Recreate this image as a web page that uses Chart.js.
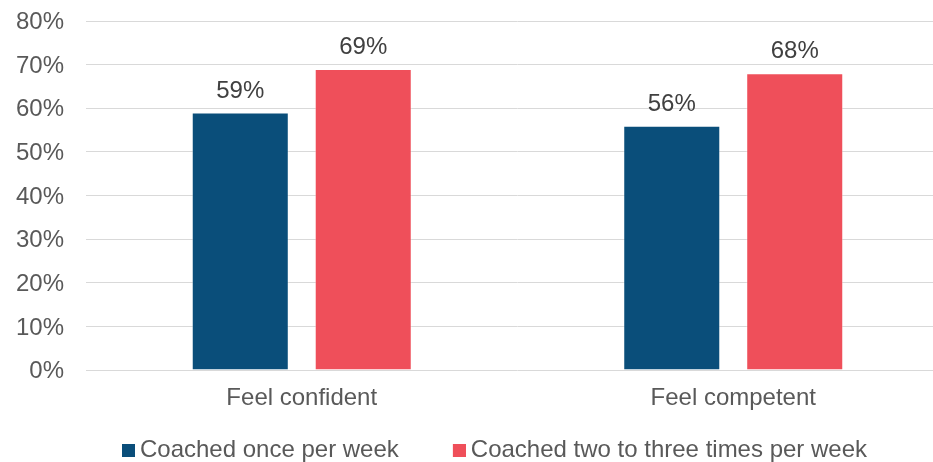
<!DOCTYPE html>
<html>
<head>
<meta charset="utf-8">
<script src="https://cdn.jsdelivr.net/npm/chart.js@4/dist/chart.umd.min.js"></script>
<style>
  html, body { margin: 0; padding: 0; overflow: hidden; background: #ffffff; }
  #wrap { width: 949px; height: 462px; position: relative; }
</style>
</head>
<body>
<div id="wrap"><canvas id="c"></canvas></div>
<script>
const categories = ['Feel confident', 'Feel competent'];
const seriesNames = ['Coached once per week', 'Coached two to three times per week'];
const onceValues = [59, 56];
const twoThreeValues = [69, 68];
const yTickValues = [0, 10, 20, 30, 40, 50, 60, 70, 80];
const seriesColors = ['#0A4E7A', '#EF4F5A'];

const FONT = '"Liberation Sans", Arial, Helvetica, sans-serif';
const LEGEND_BOX = 46;

// legend swatch: transparent canvas with a 13px square at its right end
function swatch(color) {
  const cv = document.createElement('canvas');
  cv.width = LEGEND_BOX + 14; cv.height = 13;
  const g = cv.getContext('2d');
  g.fillStyle = color;
  g.fillRect(cv.width - 13, 0, 13, 13);
  return cv;
}

const valueLabels = {
  id: 'valueLabels',
  afterDatasetsDraw(chart) {
    const ctx = chart.ctx;
    ctx.save();
    ctx.font = '24px ' + FONT;
    ctx.fillStyle = '#404040';
    ctx.textAlign = 'center';
    ctx.textBaseline = 'alphabetic';
    chart.data.datasets.forEach((ds, i) => {
      chart.getDatasetMeta(i).data.forEach((bar, j) => {
        ctx.fillText(ds.data[j] + '%', bar.x, bar.y - 15);
      });
    });
    ctx.restore();
  }
};

new Chart(document.getElementById('c'), {
  type: 'bar',
  data: {
    labels: categories,
    datasets: [
      { label: seriesNames[0], data: onceValues, backgroundColor: seriesColors[0], pointStyle: swatch(seriesColors[0]),
        borderColor: 'rgba(255,255,255,0.35)', borderWidth: 1,
        categoryPercentage: 0.57, barPercentage: 0.789 },
      { label: seriesNames[1], data: twoThreeValues, backgroundColor: seriesColors[1], pointStyle: swatch(seriesColors[1]),
        borderColor: 'rgba(255,255,255,0.35)', borderWidth: 1,
        categoryPercentage: 0.57, barPercentage: 0.789 }
    ]
  },
  options: {
    responsive: true,
    maintainAspectRatio: false,
    animation: false,
    layout: { padding: { left: 0, right: 0, top: 21, bottom: 0 } },
    plugins: {
      tooltip: { enabled: false },
      legend: {
        position: 'bottom',
        maxHeight: 38,
        labels: {
          usePointStyle: true,
          pointStyleWidth: LEGEND_BOX,
          boxHeight: 24,
          padding: 14,
          color: '#595959',
          font: { family: FONT, size: 24 }
        }
      }
    },
    scales: {
      x: {
        grid: { display: false, drawTicks: false },
        border: { display: false },
        ticks: { color: '#595959', padding: 14, font: { family: FONT, size: 24 } },
        afterFit(s) { s.height = 54; }
      },
      y: {
        min: 0,
        max: 80,
        grid: { color: '#D9D9D9', lineWidth: 1, drawTicks: false },
        border: { display: false },
        afterBuildTicks(s) { s.ticks = yTickValues.map(v => ({ value: v })); },
        ticks: {
          color: '#595959',
          padding: 22,
          labelOffset: 1.5,
          font: { family: FONT, size: 24 },
          callback: v => v + '%'
        },
        afterFit(s) { s.width = 86; s.paddingTop = 0; s.paddingBottom = 0; }
      }
    }
  },
  plugins: [valueLabels]
});
</script>
</body>
</html>
